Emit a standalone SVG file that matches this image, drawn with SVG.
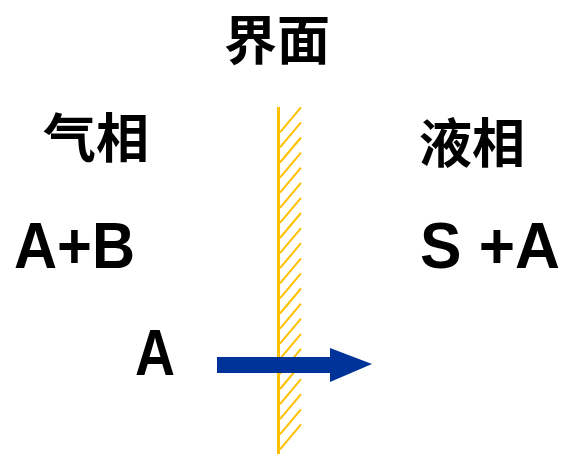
<svg xmlns="http://www.w3.org/2000/svg" width="563" height="454" viewBox="0 0 563 454">
<style>
.cjk{font-family:"Noto Sans CJK SC","Noto Sans CJK JP",sans-serif;font-weight:bold;font-size:53px;fill:#000}
.lat{font-family:"Liberation Sans",Arial,sans-serif;font-weight:bold;font-size:64px;fill:#000}
.hatch{stroke:#FFC000;stroke-width:2;fill:none}
.wall{stroke:#FFC000;stroke-width:3;fill:none}
</style>
<g id="interface">
<line x1="278.5" y1="107" x2="278.5" y2="454" class="wall"/>
<path class="hatch" d="M280,132.3L301,107.3 M280,147.4L301,122.4 M280,162.5L301,137.5 M280,177.6L301,152.6 M280,192.7L301,167.7 M280,207.8L301,182.8 M280,222.9L301,197.9 M280,238L301,213 M280,253.1L301,228.1 M280,268.2L301,243.2 M280,283.3L301,258.3 M280,298.4L301,273.4 M280,313.5L301,288.5 M280,328.6L301,303.6 M280,343.7L301,318.7 M280,358.8L301,333.8 M280,373.9L301,348.9 M280,389L301,364 M280,404.1L301,379.1 M280,419.2L301,394.2 M280,434.3L301,409.3 M280,449.4L301,424.4"/>
</g>
<g id="label-interface"><text x="277" y="60" text-anchor="middle" class="cjk">界面</text></g>
<g id="gas"><text x="96" y="158" text-anchor="middle" class="cjk">气相</text></g>
<g id="liquid"><text x="472" y="163" text-anchor="middle" class="cjk">液相</text></g>
<g id="ab"><text x="14" y="268" class="lat" textLength="121" lengthAdjust="spacingAndGlyphs">A+B</text></g>
<g id="sa"><text x="420" y="268" class="lat" textLength="140" lengthAdjust="spacingAndGlyphs">S +A</text></g>
<g id="a"><text x="135" y="375" class="lat" textLength="40" lengthAdjust="spacingAndGlyphs">A</text></g>
<g id="connectors">
<polygon points="217,357 330,357 330,348 372,364 330,382 330,373 217,373" fill="#003399"/>
</g>
</svg>
